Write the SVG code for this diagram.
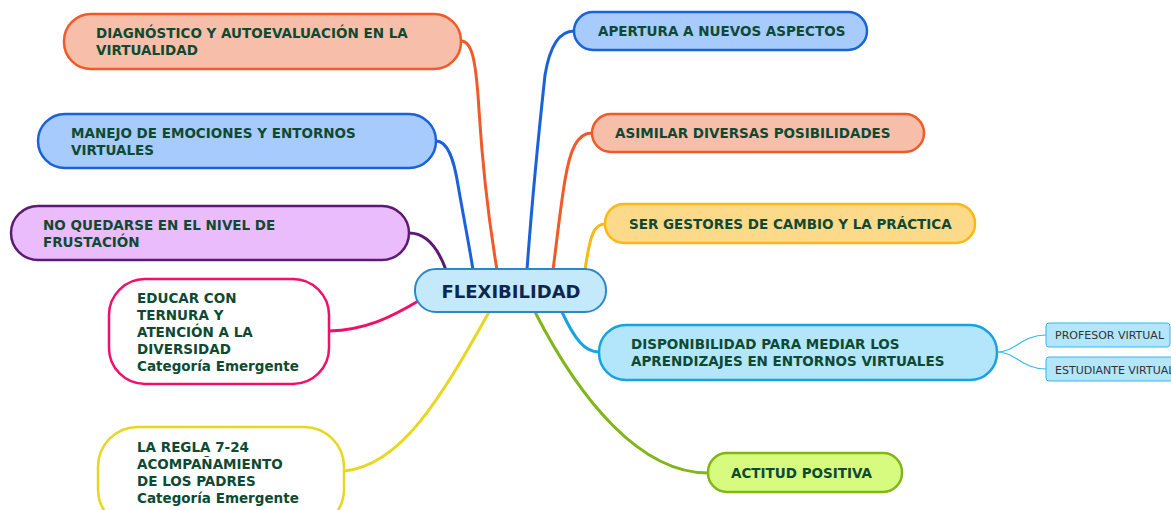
<svg xmlns="http://www.w3.org/2000/svg" width="1171" height="510" viewBox="0 0 1171 510">
<style>
.t{font-family:"DejaVu Sans",Verdana,sans-serif;font-weight:bold;font-size:13.5px;fill:#0e4a33}
.c{fill:none;stroke-width:3;stroke-linecap:round}
.s{font-family:"DejaVu Sans",Verdana,sans-serif;font-size:11px;fill:#333}
.n{stroke-width:2.5}
</style>
<rect width="1171" height="510" fill="#fff"/>
<g id="connectors">
<path class="c" stroke="#f05a28" d="M461,41 C472,41 476,60 479,110 C484,190 492,240 497,270"/>
<path class="c" stroke="#1a62d9" d="M436,141 C448,141 454,160 458,185 C465,225 470,250 473,270"/>
<path class="c" stroke="#5c1b72" d="M409,233 C425,233 437,245 446,270"/>
<path class="c" stroke="#f0106a" d="M329,331 C365,330 390,318 420,300"/>
<path class="c" stroke="#e8d620" d="M344,471 C400,466 440,400 489,312"/>
<path class="c" stroke="#1a62d9" d="M574,31 C560,31 550,45 545,75 C538,140 532,200 527,270"/>
<path class="c" stroke="#f05a28" d="M592,133 C577,133 570,150 565,180 C560,210 557,240 553,270"/>
<path class="c" stroke="#fdb813" d="M605,224 C594,224 590,235 585,270"/>
<path class="c" stroke="#16a3e3" d="M599,352 C585,352 575,340 562,312"/>
<path class="c" stroke="#80b61a" d="M708,473 C640,473 580,400 535,312"/>
<path fill="none" stroke="#35b8ee" stroke-width="1.2" d="M997,352 C1015,352 1022,335 1046,335 M997,352 C1015,352 1022,369 1046,369"/>
</g>
<g id="n-diag"><rect class="n" x="64" y="14" width="397" height="55" rx="27" fill="#f7bfaa" stroke="#f05a28"/>
<text class="t" x="96" y="38">DIAGNÓSTICO Y AUTOEVALUACIÓN EN LA</text><text class="t" x="96" y="55">VIRTUALIDAD</text></g>
<g id="n-manejo"><rect class="n" x="38" y="114" width="398" height="54" rx="27" fill="#a6cbfc" stroke="#1a62d9"/>
<text class="t" x="71" y="138">MANEJO DE EMOCIONES Y ENTORNOS</text><text class="t" x="71" y="155">VIRTUALES</text></g>
<g id="n-noq"><rect class="n" x="11" y="206" width="398" height="54" rx="27" fill="#ebbcfb" stroke="#5c1b72"/>
<text class="t" x="43" y="230">NO QUEDARSE EN EL NIVEL DE</text><text class="t" x="43" y="247">FRUSTACIÓN</text></g>
<g id="n-educar"><rect class="n" x="109" y="279" width="220" height="105" rx="36" fill="#fff" stroke="#f0106a"/>
<text class="t" x="137" y="303">EDUCAR CON</text><text class="t" x="137" y="320">TERNURA Y</text><text class="t" x="137" y="337">ATENCIÓN A LA</text><text class="t" x="137" y="354">DIVERSIDAD</text><text class="t" x="137" y="371">Categoría Emergente</text></g>
<g id="n-regla"><rect class="n" x="98" y="427" width="246" height="102" rx="40" fill="#fff" stroke="#e8d620"/>
<text class="t" x="137" y="452">LA REGLA 7-24</text><text class="t" x="137" y="469">ACOMPAÑAMIENTO</text><text class="t" x="137" y="486">DE LOS PADRES</text><text class="t" x="137" y="503">Categoría Emergente</text></g>
<g id="n-center"><rect x="415" y="269" width="191" height="43" rx="21" fill="#c3e9fb" stroke="#2d86c5" stroke-width="2"/>
<text x="511" y="298" text-anchor="middle" style="font-family:'DejaVu Sans',Verdana,sans-serif;font-weight:bold;font-size:18px;fill:#0d2650">FLEXIBILIDAD</text></g>
<g id="n-apertura"><rect class="n" x="574" y="12" width="293" height="38" rx="19" fill="#a6cbfc" stroke="#1a62d9"/>
<text class="t" x="598" y="36">APERTURA A NUEVOS ASPECTOS</text></g>
<g id="n-asimilar"><rect class="n" x="592" y="114" width="332" height="38" rx="19" fill="#f7bfaa" stroke="#f05a28"/>
<text class="t" x="615" y="138">ASIMILAR DIVERSAS POSIBILIDADES</text></g>
<g id="n-ser"><rect class="n" x="605" y="204" width="370" height="39" rx="19" fill="#fdd98a" stroke="#fdb813"/>
<text class="t" x="629" y="229">SER GESTORES DE CAMBIO Y LA PRÁCTICA</text></g>
<g id="n-disp"><rect class="n" x="599" y="325" width="398" height="55" rx="27" fill="#b3e5fb" stroke="#16a3e3"/>
<text class="t" x="631" y="349">DISPONIBILIDAD PARA MEDIAR LOS</text><text class="t" x="631" y="366">APRENDIZAJES EN ENTORNOS VIRTUALES</text></g>
<g id="n-actitud"><rect class="n" x="708" y="453" width="194" height="39" rx="19" fill="#d6fb7f" stroke="#80b61a"/>
<text class="t" x="731" y="478">ACTITUD POSITIVA</text></g>
<g id="n-prof"><rect x="1046" y="323" width="124" height="24" rx="3" fill="#b3e5fb" stroke="#35b8ee" stroke-width="1"/>
<text class="s" x="1055" y="339">PROFESOR VIRTUAL</text></g>
<g id="n-est"><rect x="1046" y="357" width="130" height="24" rx="3" fill="#b3e5fb" stroke="#35b8ee" stroke-width="1"/>
<text class="s" x="1055" y="374">ESTUDIANTE VIRTUAL</text></g>
</svg>
